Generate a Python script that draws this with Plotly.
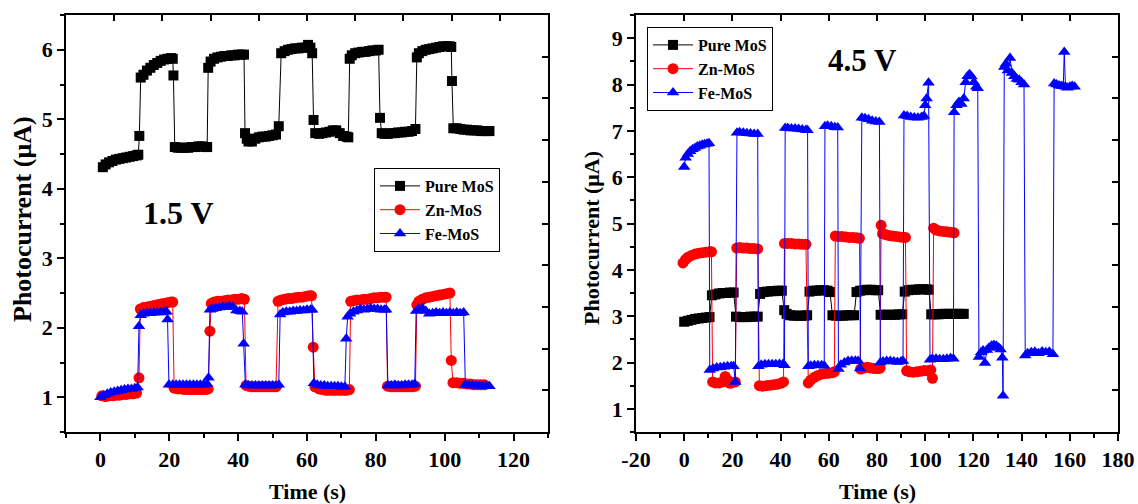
import plotly.graph_objects as go

FONT = "Liberation Serif, Times New Roman, serif"

# ---------------- 1.5 V panel ----------------
t_pure_15 = [0.7,1.5,2.5,3.5,4.5,5.5,6.5,7.5,8.5,9.5,10.5,11.0,
 11.3,
 11.7,12.5,13.5,14.5,15.5,16.5,17.5,18.5,19.5,20.5,21.0,
 21.2,
 21.6,22.5,23.5,24.5,25.5,26.5,27.5,28.5,29.5,30.5,31.0,
 31.3,32,33,34,35,36,37,38,39,40,41,41.7,
 42.0,
 42.5,43,44,45,46,47,48,49,50,51,
 51.8,
 52.5,53.5,54.5,55.5,56.5,57.5,58.5,59.5,60.3,61,61.5,
 61.9,
 62.4,63.5,64.5,65.5,66.5,67.5,68.5,69.5,70.5,71.5,72.0,
 72.4,73,74,75,76,77,78,79,80,80.8,
 81.2,
 81.7,82.5,83.5,84.5,85.5,86.5,87.5,88.5,89.5,90.5,91.5,
 91.9,92.5,93.5,94.5,95.5,96.5,97.5,98.5,99.5,100.5,101.5,101.9,
 102.1,
 102.5,103.5,104.5,105.5,106.5,107.5,108.5,109.5,110.5,111.5,112.5,113.0]
v_pure_15 = [4.31,4.35,4.38,4.40,4.42,4.43,4.44,4.45,4.46,4.47,4.48,4.49,
 4.76,
 5.60,5.64,5.70,5.74,5.78,5.81,5.84,5.86,5.87,5.88,5.87,
 5.63,
 4.60,4.59,4.59,4.59,4.59,4.60,4.60,4.61,4.61,4.60,4.60,
 5.74,5.83,5.87,5.89,5.90,5.91,5.91,5.92,5.92,5.93,5.93,5.93,
 4.80,
 4.72,4.68,4.68,4.72,4.74,4.75,4.75,4.76,4.77,4.78,
 4.90,
 5.95,5.98,6.00,6.01,6.02,6.02,6.03,6.03,6.07,6.03,5.95,
 4.99,
 4.80,4.79,4.80,4.81,4.82,4.84,4.84,4.80,4.76,4.75,4.74,
 5.87,5.92,5.95,5.96,5.97,5.97,5.98,5.99,5.99,6.00,
 5.02,
 4.80,4.79,4.79,4.80,4.80,4.81,4.81,4.82,4.82,4.83,4.86,
 5.89,5.95,5.98,6.00,6.01,6.02,6.03,6.04,6.05,6.05,6.05,6.04,
 5.55,
 4.87,4.87,4.86,4.85,4.85,4.84,4.84,4.84,4.83,4.83,4.83,4.83]

t_zn_15 = [0.4,1.5,2.5,3.5,4.5,5.5,6.5,7.5,8.5,9.5,10.5,
 11.2,
 11.6,12.5,13.5,14.5,15.5,16.5,17.5,18.5,19.5,20.5,21.0,
 21.4,22.5,23.5,24.5,25.5,26.5,27.5,28.5,29.5,30.5,31.3,
 31.8,
 32.2,33,34,35,36,37,38,39,40,41,41.8,
 42.3,43,44,45,46,47,48,49,50,51,
 51.6,52.5,53.5,54.5,55.5,56.5,57.5,58.5,59.5,60.5,61.3,
 61.8,
 62.3,63.5,64.5,65.5,66.5,67.5,68.5,69.5,70.5,71.5,72.3,
 72.7,73.5,74.5,75.5,76.5,77.5,78.5,79.5,80.5,81.5,82.5,83.0,
 83.4,84.5,85.5,86.5,87.5,88.5,89.5,90.5,91.5,
 91.9,92.5,93.5,94.5,95.5,96.5,97.5,98.5,99.5,100.5,101.5,
 101.9,
 102.4,103.5,104.5,105.5,106.5,107.5,108.5,109.5,110.5,111.5]
v_zn_15 = [1.02,1.01,1.02,1.02,1.03,1.03,1.04,1.04,1.05,1.05,1.06,
 1.28,
 2.27,2.29,2.30,2.31,2.32,2.33,2.34,2.35,2.36,2.37,2.37,
 1.13,1.12,1.12,1.11,1.11,1.11,1.11,1.11,1.11,1.11,1.12,
 1.95,
 2.35,2.37,2.38,2.38,2.39,2.40,2.40,2.41,2.41,2.42,2.41,
 1.17,1.16,1.15,1.15,1.15,1.15,1.15,1.15,1.15,1.15,
 2.38,2.40,2.41,2.42,2.42,2.43,2.44,2.44,2.45,2.46,2.46,
 1.72,
 1.15,1.12,1.11,1.10,1.10,1.10,1.10,1.10,1.10,1.10,1.11,
 2.38,2.39,2.40,2.40,2.41,2.41,2.42,2.43,2.43,2.44,2.44,2.44,
 1.16,1.15,1.15,1.15,1.15,1.15,1.15,1.15,1.16,
 2.33,2.38,2.41,2.43,2.44,2.45,2.46,2.47,2.48,2.49,2.50,
 1.53,
 1.21,1.21,1.20,1.20,1.19,1.19,1.18,1.18,1.18,1.18]

t_fe_15 = [0.0,1,2,3,4,5,6,7,8,9,10,10.8,
 11.2,
 11.7,12.5,13.5,14.5,15.5,16.5,17.5,18.5,19.2,
 19.5,
 19.9,21,22,23,24,25,26,27,28,29,30,31,
 31.4,
 31.8,32.5,33.5,34.5,35.5,36.5,37.5,38.5,39.5,40.5,41.2,
 41.6,
 42.1,43,44,45,46,47,48,49,50,51,51.8,
 52.2,53,54,55,56,57,58,59,60,61,61.5,
 62,63,64,65,66,67,68,69,70,71,
 71.4,
 71.8,72.5,73.5,74.5,75.5,76.5,77.5,78.5,79.5,80.5,81.5,82.5,83.0,
 83.5,84.5,85.5,86.5,87.5,88.5,89.5,90.5,91.3,
 91.7,92.5,93.5,94.5,95.5,96.5,97.5,98.5,99.5,100.5,101.5,102.5,103.5,104.5,105.5,
 106,107,108,109,110,111,112,113]
v_fe_15 = [1.00,1.03,1.05,1.07,1.08,1.09,1.10,1.11,1.12,1.12,1.13,1.14,
 2.02,
 2.18,2.20,2.21,2.21,2.22,2.22,2.22,2.23,2.23,
 2.12,
 1.18,1.18,1.18,1.18,1.18,1.18,1.18,1.18,1.18,1.18,1.18,1.19,
 1.28,
 2.26,2.27,2.28,2.29,2.30,2.30,2.31,2.30,2.25,2.24,2.23,
 1.77,
 1.18,1.17,1.17,1.17,1.17,1.17,1.17,1.17,1.17,1.17,1.18,
 2.19,2.22,2.23,2.23,2.24,2.24,2.25,2.25,2.26,2.26,2.26,
 1.20,1.18,1.17,1.17,1.16,1.16,1.16,1.16,1.15,1.15,
 1.84,
 2.16,2.20,2.23,2.25,2.27,2.26,2.27,2.28,2.27,2.27,2.26,2.26,2.26,
 1.17,1.17,1.18,1.17,1.17,1.18,1.18,1.18,1.19,
 2.24,2.27,2.28,2.24,2.20,2.21,2.22,2.21,2.22,2.21,2.22,2.21,2.22,2.21,2.22,
 1.18,1.17,1.17,1.17,1.17,1.16,1.16,1.16]

# ---------------- 4.5 V panel ----------------
t_pure_45 = [0,1.5,3,4.5,6,7.5,9,10.5,
 11.5,13,14.5,16,17.5,19,20.5,
 21.5,23,24.5,26,27.5,29,30.5,
 31.5,33,34.5,36,37.5,39,40.5,
 41.5,42.5,44,45.5,47,48.5,50,51,
 52,53.5,55,56.5,58,59.5,60.5,
 61.5,63,64.5,66,67.5,69,70.5,
 71.5,73,74.5,76,77.5,79,80.5,
 81.5,83,84.5,86,87.5,89,90.5,
 91.5,93,94.5,96,97.5,99,100.5,101.5,
 102.5,104,105.5,107,108.5,110,111.5,113,114.5,116]
v_pure_45 = [2.88,2.90,2.92,2.94,2.95,2.96,2.97,2.98,
 3.45,3.47,3.49,3.50,3.50,3.51,3.51,
 2.99,2.98,2.98,2.98,2.99,2.99,2.99,
 3.48,3.52,3.53,3.54,3.54,3.55,3.55,
 3.13,3.05,3.02,3.01,3.01,3.01,3.01,3.02,
 3.53,3.55,3.55,3.56,3.56,3.55,3.52,
 3.02,3.01,3.01,3.01,3.02,3.02,3.02,
 3.52,3.55,3.56,3.57,3.57,3.56,3.56,
 3.03,3.03,3.03,3.03,3.03,3.04,3.04,
 3.53,3.56,3.57,3.57,3.58,3.58,3.58,3.57,
 3.04,3.04,3.04,3.05,3.05,3.05,3.05,3.05,3.05,3.05]

t_zn_45 = [-0.5,0.5,1.5,3,4.5,6,7.5,9,10.5,11.3,
 11.8,13,14.5,16,17,18,19,20,21.2,
 21.8,23,24.5,26,27.5,29,30.5,
 31.2,32.5,34,35.5,37,38.5,40,41.2,
 41.6,43,44.5,46,47.5,49,50.5,
 51.5,52.5,54,55.5,57,58.5,60,61.5,62.3,
 62.7,64,65.5,67,68.5,70,71.5,72.7,
 73.2,74.5,76,77.5,79,80.5,81.3,
 81.7,82.3,83.5,85,86.5,88,89.5,91,91.8,
 92.3,93.5,95,96.5,98,99.5,101,102.3,103,
 103.5,104.5,106,107.5,109,110.5,112]
v_zn_45 = [4.15,4.22,4.27,4.31,4.34,4.36,4.37,4.38,4.39,4.39,
 1.58,1.56,1.56,1.58,1.70,1.62,1.55,1.57,1.58,
 4.47,4.48,4.47,4.47,4.46,4.46,4.45,
 1.50,1.49,1.50,1.51,1.52,1.53,1.55,1.58,
 4.57,4.57,4.57,4.56,4.56,4.55,4.55,
 1.56,1.62,1.68,1.72,1.75,1.76,1.77,1.78,1.80,
 4.73,4.72,4.72,4.71,4.70,4.70,4.69,4.68,
 1.86,1.88,1.90,1.88,1.87,1.87,1.88,
 4.96,4.78,4.76,4.74,4.73,4.72,4.71,4.70,4.70,
 1.82,1.80,1.79,1.80,1.81,1.83,1.82,1.84,1.66,
 4.90,4.86,4.84,4.83,4.82,4.81,4.80]

t_fe_45 = [0,0.6,1.5,2.5,3.5,4.5,5.5,6.5,7.5,8.5,9.5,10.3,
 10.6,12,13.5,15,16.5,18,19.5,20.5,21.2,
 21.9,23,24.5,26,27.5,29,30.5,
 30.8,32,33.5,35,36.5,38,39.5,41,41.6,
 41.9,43,44.5,46,47.5,49,50.5,51.2,
 51.5,52.5,54,55.5,57,58.1,
 58.4,59.5,61,62.5,63.7,
 64,65,66.5,68,69.5,71,72.2,73.0,
 73.7,75,76.5,78,79.5,81,
 81.4,82.5,84,85.5,87,88.5,90,90.8,
 91.2,92.5,94,95.5,97,98.5,99.5,100,100.6,101.4,
 102,103,104.5,106,107.5,109,110.5,111.7,
 112,113,114,115,116,116.8,117.6,118.4,119.2,120.2,121.2,121.8,
 122.3,123.2,124,124.8,125.6,126.5,127.5,128.5,129.5,130.5,131.3,132,132.3,
 132.8,133.5,134.3,135.2,136,137,138,139,140,141,
 141.5,142.5,144,145.5,147,148.5,150,151.5,153,
 153.5,154.5,155.5,156.5,157.3,157.7,158.2,159,160,161,162]
v_fe_45 = [6.22,6.42,6.50,6.56,6.60,6.63,6.66,6.68,6.70,6.71,6.72,6.73,
 1.84,1.87,1.89,1.90,1.91,1.92,1.92,1.92,1.58,
 6.96,6.97,6.96,6.95,6.94,6.93,6.93,
 1.92,1.95,1.96,1.96,1.96,1.96,1.97,1.97,1.94,
 7.06,7.06,7.05,7.05,7.04,7.03,7.02,7.01,
 1.92,1.93,1.94,1.94,1.94,1.93,
 7.10,7.11,7.10,7.08,7.07,
 1.86,1.95,2.00,2.03,2.04,2.04,2.03,1.87,
 7.28,7.27,7.25,7.22,7.20,7.19,
 2.00,2.02,2.03,2.03,2.02,2.01,2.02,2.03,
 7.33,7.32,7.30,7.29,7.28,7.30,7.32,7.55,7.70,8.04,
 2.06,2.08,2.08,2.07,2.07,2.08,2.09,2.08,
 7.40,7.55,7.62,7.58,7.70,8.05,8.18,8.22,8.17,8.05,7.95,7.92,
 2.12,2.22,2.26,1.99,2.27,2.32,2.36,2.38,2.36,2.32,2.28,2.10,1.28,
 8.38,8.45,8.30,8.57,8.25,8.18,8.12,8.10,8.05,8.00,
 2.15,2.20,2.22,2.23,2.20,2.24,2.22,2.23,2.18,
 8.02,8.00,7.98,7.97,7.96,8.70,7.95,7.93,7.95,7.97,7.95]

# tick labels
x_ticks_15 = [0, 20, 40, 60, 80, 100, 120]
x_ticks_45 = [-20, 0, 20, 40, 60, 80, 100, 120, 140, 160, 180]
y_ticks_15 = [1, 2, 3, 4, 5, 6]
y_ticks_45 = [1, 2, 3, 4, 5, 6, 7, 8, 9]

series_names = ["Pure MoS", "Zn-MoS", "Fe-MoS"]
colors = ["#000000", "#FF0000", "#0000FF"]
symbols = ["square", "circle", "triangle-up"]
sizes = [10, 11, 11]

W, H = 1138, 504
fig = go.Figure()

panel_data = [
    ([t_pure_15, t_zn_15, t_fe_15], [v_pure_15, v_zn_15, v_fe_15], "x", "y", "legend"),
    ([t_pure_45, t_zn_45, t_fe_45], [v_pure_45, v_zn_45, v_fe_45], "x2", "y2", "legend2"),
]
for ts, vs, xa, ya, lg in panel_data:
    for i in range(3):
        fig.add_trace(go.Scatter(
            x=ts[i], y=vs[i], mode="lines+markers", name=series_names[i],
            line=dict(color=colors[i], width=1),
            marker=dict(color=colors[i], symbol=symbols[i], size=sizes[i], line=dict(width=0)),
            xaxis=xa, yaxis=ya, legend=lg))

# dummy traces so the decorative top/right tick axes get drawn
for xa, ya in [("x3", "y"), ("x", "y3"), ("x4", "y2"), ("x2", "y4")]:
    fig.add_trace(go.Scatter(x=[None], y=[None], xaxis=xa, yaxis=ya,
                             showlegend=False, hoverinfo="skip"))

tickfont = dict(family=FONT, size=22, color="black", weight="bold")
base = dict(showline=True, linecolor="black", linewidth=1.5, mirror=True,
            showgrid=False, zeroline=False, ticks="outside", ticklen=7,
            tickwidth=1.5, tickcolor="black", tickfont=tickfont,
            automargin=False, tickmode="array")
deco = dict(range=[0, 10], dtick=1, tick0=0, ticks="inside", ticklen=6,
            tickwidth=1.5, tickcolor="black", showticklabels=False,
            showline=False, showgrid=False, zeroline=False, automargin=False)

def lab(vals):
    return [str(v) for v in vals]

def minor(d):
    return dict(ticks="outside", ticklen=4, tickwidth=1.5, tickcolor="black",
                dtick=d, tick0=0, showgrid=False)

xd1 = [66 / W, 548 / W]
xd2 = [636 / W, 1118 / W]
yd = [1 - 432 / H, 1 - 15 / H]

legfont = dict(family=FONT, size=16, color="black", weight="bold")

fig.update_layout(
    width=W, height=H, margin=dict(l=0, r=0, t=0, b=0, pad=0, autoexpand=False),
    paper_bgcolor="white", plot_bgcolor="white",
    xaxis=dict(base, domain=xd1, anchor="y", range=[-10, 130],
               tickvals=x_ticks_15, ticktext=lab(x_ticks_15), minor=minor(10)),
    yaxis=dict(base, domain=yd, anchor="x", range=[0.5, 6.5],
               tickvals=y_ticks_15, ticktext=lab(y_ticks_15), minor=minor(0.5)),
    xaxis2=dict(base, domain=xd2, anchor="y2", range=[-20, 180],
                tickvals=x_ticks_45, ticktext=lab(x_ticks_45), minor=minor(10)),
    yaxis2=dict(base, domain=yd, anchor="x2", range=[0.5, 9.5],
                tickvals=y_ticks_45, ticktext=lab(y_ticks_45), minor=minor(0.5)),
    xaxis3=dict(deco, overlaying="x", side="top", anchor="y"),
    yaxis3=dict(deco, overlaying="y", side="right", anchor="x"),
    xaxis4=dict(deco, overlaying="x2", side="top", anchor="y2"),
    yaxis4=dict(deco, overlaying="y2", side="right", anchor="x2"),
    legend=dict(x=374 / W, y=1 - 168 / H, xanchor="left", yanchor="top",
                bordercolor="black", borderwidth=1, bgcolor="white",
                font=legfont, itemwidth=40, tracegroupgap=0),
    legend2=dict(x=647 / W, y=1 - 27 / H, xanchor="left", yanchor="top",
                 bordercolor="black", borderwidth=1, bgcolor="white",
                 font=legfont, itemwidth=40, tracegroupgap=0),
    showlegend=True,
)

ann_font = dict(family=FONT, color="black", weight="bold")
annotations = [
    dict(text="1.5 V", x=178 / W, y=1 - 213 / H, font=dict(ann_font, size=32)),
    dict(text="4.5 V", x=862 / W, y=1 - 60 / H, font=dict(ann_font, size=31)),
    dict(text="Time (s)", x=307 / W, y=1 - 491 / H, font=dict(ann_font, size=22)),
    dict(text="Time (s)", x=877 / W, y=1 - 491 / H, font=dict(ann_font, size=22)),
    dict(text="Photocurrent (\u03bcA)", x=22 / W, y=1 - 219 / H, textangle=-90, font=dict(ann_font, size=26)),
    dict(text="Photocurrent (\u03bcA)", x=591 / W, y=1 - 238 / H, textangle=-90, font=dict(ann_font, size=22)),
]
for a in annotations:
    fig.add_annotation(xref="paper", yref="paper", showarrow=False,
                       xanchor="center", yanchor="middle", **a)

fig.write_html("out.html")
